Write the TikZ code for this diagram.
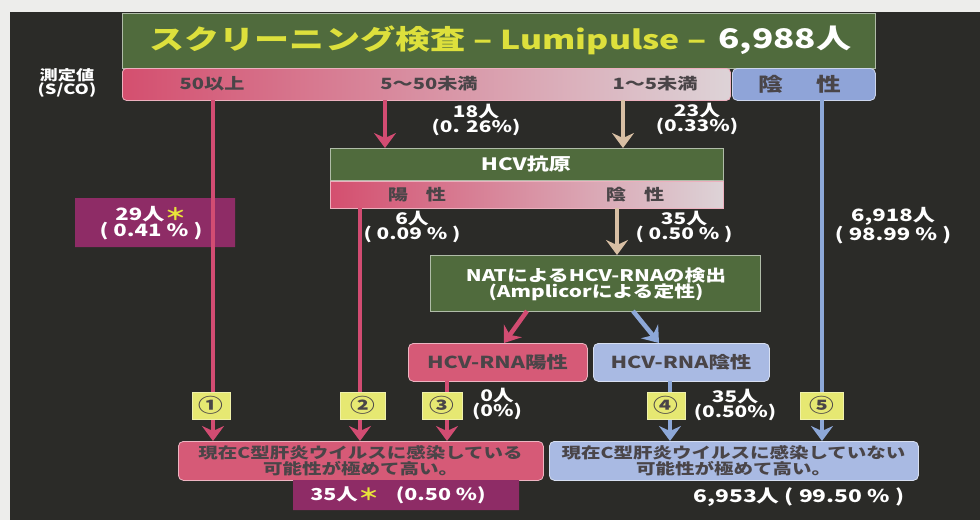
\documentclass[tikz,border=0pt]{standalone}
\usepackage{fontspec}
\setmainfont{Noto Sans CJK JP}[FakeStretch=1.3]
\usetikzlibrary{arrows.meta,shapes.misc}
\definecolor{paper}{HTML}{EDEDEB}
\definecolor{panel}{HTML}{2B2B28}
\definecolor{grn}{HTML}{506B3D}
\definecolor{pk}{HTML}{D44F6F}
\definecolor{pkbox}{HTML}{D65A77}
\definecolor{pklight}{HTML}{DDD3D7}
\definecolor{bl}{HTML}{8FA4D8}
\definecolor{bllight}{HTML}{A9BAE3}
\definecolor{pur}{HTML}{8E2C66}
\definecolor{ylw}{HTML}{E6E872}
\definecolor{ast}{HTML}{E8E43A}
\definecolor{ttl}{HTML}{DDE03C}
\definecolor{tanc}{HTML}{D8BFA4}
\definecolor{dtxt}{HTML}{4A4548}
\definecolor{pkarr}{HTML}{D24C72}
\definecolor{blarr}{HTML}{8DA8D8}
\tikzset{
  box/.style={anchor=north west, inner sep=0pt, draw=white!55!#1, line width=0.8pt, fill=#1},
  rbox/.style={box=#1, rounded corners=5pt},
  wtxt/.style={text=white, align=center, font=\fontsize{16}{15}\selectfont\bfseries},
  dtext/.style={text=dtxt, align=center, font=\fontsize{15.5}{15}\selectfont\bfseries},
  arr/.style={draw=#1, line width=4.5pt, -{Stealth[length=15pt,width=22pt,inset=5pt]}},
  numbox/.style={fill=ylw, draw=white!40!ylw, line width=0.6pt, minimum height=27pt, inner sep=0pt, text=dtxt, font=\fontsize{19}{19}\selectfont\bfseries},
}
\begin{document}
\begin{tikzpicture}[x=1pt,y=-1pt]
\useasboundingbox[fill=paper] (0,0) rectangle (980,520);
\fill[panel] (10,12) rectangle (980,520);

% title
\node[box=grn, minimum width=753pt, minimum height=55pt] (title) at (122,13) {};
\node[anchor=west, text=ttl, font=\fontsize{27}{27}\selectfont\bfseries] (ttlA) at (146,40) {スクリーニング検査 – {\fontsize{26}{26}\selectfont Lumipulse} –};
\node[anchor=east, text=white, font=\fontsize{27}{27}\selectfont\bfseries] (ttlB) at (855,40) {6,988人};

% measurement row
\node[wtxt, font=\fontsize{14}{14}\selectfont\bfseries] (meas) at (67,83) {測定値\\(S/CO)};
\node[box=pk, left color=pk, right color=pklight, rounded corners=4pt, minimum width=608pt, minimum height=32pt] (cat) at (122,68) {};
\node[dtext] (l50) at (212,84) {50以上};
\node[dtext] (l5) at (429,84) {5～50未満};
\node[dtext] (l1) at (655,84) {1～5未満};
\node[rbox=bl, minimum width=143pt, minimum height=32pt] (neg) at (732,68) {};
\node[dtext, font=\fontsize{19}{19}\selectfont\bfseries] (negt) at (800,84) {陰\hspace{34pt}性};

\coordinate (a50) at (213,100);
\coordinate (a5) at (385,100);
\coordinate (a1) at (623,100);
\coordinate (aneg) at (822,100);

% counts
\node[wtxt] (c18) at (476,120) {18人\\(0. 26\%)};
\node[wtxt] (c23) at (697,119) {23人\\(0.33\%)};

% HCV antigen
\node[box=grn, minimum width=393pt, minimum height=32pt] (hcv) at (330,148) {};
\node[wtxt, font=\fontsize{17}{17}\selectfont\bfseries] (hcvt) at (526,164) {HCV抗原};
\node[box=pk, left color=pk, right color=pklight, minimum width=393pt, minimum height=27pt] (hcvsub) at (330,181) {};
\node[dtext] (hpos) at (417,194.5) {陽\hspace{18pt}性};
\node[dtext] (hneg) at (635,194.5) {陰\hspace{18pt}性};
\coordinate (apos) at (360,208);
\coordinate (aneg2) at (617,208);

% 29 box
\node[chamfered rectangle, chamfered rectangle corners={north west,south east}, chamfered rectangle xsep=5pt, fill=pur, inner sep=0pt, minimum width=160pt, minimum height=49pt] (p29) at (155,222.5) {};
\node[wtxt, font=\fontsize{17}{16}\selectfont\bfseries] (p29t) at (151,223) {29人{\color{ast}＊}\\( 0.41 \% )};

\node[wtxt] (c6) at (412,227) {6人\\( 0.09 \% )};
\node[wtxt] (c35a) at (684,227) {35人\\( 0.50 \% )};
\node[wtxt, font=\fontsize{17}{16}\selectfont\bfseries] (c6918) at (893,226) {6,918人\\( 98.99 \% )};

% NAT
\node[box=grn, minimum width=330pt, minimum height=56pt] (nat) at (430,255) {};
\node[wtxt, font=\fontsize{16}{16}\selectfont\bfseries] (natt) at (596,284) {NATによるHCV-RNAの検出\\(Amplicorによる定性)};
\coordinate (n1) at (527,311);
\coordinate (n1e) at (504,343);
\coordinate (n2) at (633,311);
\coordinate (n2e) at (659,343);

\node[rbox=pkbox, minimum width=179pt, minimum height=38pt] (rnap) at (408,343) {};
\node[dtext, font=\fontsize{16.5}{16}\selectfont\bfseries] (rnapt) at (497.5,362) {HCV-RNA陽性};
\node[rbox=bllight, minimum width=176pt, minimum height=38pt] (rnan) at (593,343) {};
\node[dtext, font=\fontsize{16.5}{16}\selectfont\bfseries] (rnant) at (681,362) {HCV-RNA陰性};
\coordinate (r3) at (447,381);
\coordinate (r4) at (670,381);

\node[wtxt] (c0) at (497,404) {0人\\(0\%)};
\node[wtxt] (c35b) at (735,405) {35人\\(0.50\%)};

% bottom boxes
\node[rbox=pkbox, minimum width=365pt, minimum height=39pt] (botL) at (178,441) {};
\node[dtext, font=\fontsize{15}{14}\selectfont\bfseries] (botLt) at (360.5,460.5) {現在C型肝炎ウイルスに感染している\\可能性が極めて高い。};
\node[chamfered rectangle, chamfered rectangle corners={south east}, chamfered rectangle xsep=5pt, fill=pur, inner sep=0pt, minimum width=226pt, minimum height=30pt] (botP) at (406,495) {};
\node[wtxt, font=\fontsize{16.5}{16}\selectfont\bfseries] (botPt) at (398,495) {35人{\color{ast}＊}\quad(0.50 \%)};
\node[rbox=bllight, minimum width=369pt, minimum height=39pt] (botR) at (549,441) {};
\node[dtext, font=\fontsize{15}{14}\selectfont\bfseries] (botRt) at (733.5,460.5) {現在C型肝炎ウイルスに感染していない\\可能性が極めて高い。};
\node[wtxt, font=\fontsize{17.5}{17}\selectfont\bfseries] (tot) at (799,497) {6,953人 ( 99.50 \% )};

% arrows
\draw[arr=pkarr] (a50) -- (a50 |- botL.north);
\draw[arr=pkarr] (a5) -- (a5 |- hcv.north);
\draw[arr=tanc] (a1) -- (a1 |- hcv.north);
\draw[arr=blarr] (aneg) -- (aneg |- botR.north);
\draw[arr=pkarr] (apos) -- (apos |- botL.north);
\draw[arr=tanc] (aneg2) -- (aneg2 |- nat.north);
\draw[arr=pkarr] (n1) -- (n1e);
\draw[arr=blarr] (n2) -- (n2e);
\draw[arr=pkarr] (r3) -- (r3 |- botL.north);
\draw[arr=blarr] (r4) -- (r4 |- botR.north);

% number boxes
\node[numbox, minimum width=38pt] (k1) at (211,405.5) {①};
\node[numbox, minimum width=45pt] (k2) at (362.5,405.5) {②};
\node[numbox, minimum width=40pt] (k3) at (442,405.5) {③};
\node[numbox, minimum width=38pt] (k4) at (666,405.5) {④};
\node[numbox, minimum width=43pt] (k5) at (821.5,405.5) {⑤};
\end{tikzpicture}
\end{document}
